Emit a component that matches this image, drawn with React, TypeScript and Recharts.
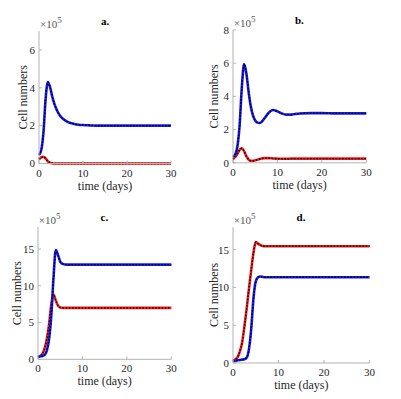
import { Line, LineChart, XAxis, YAxis } from "recharts";

// time grid (days), shared by every panel
const time = [0, 0.5, 1, 1.5, 2, 2.5, 3, 3.5, 4, 4.5, 5, 5.5, 6, 6.5, 7, 8, 9, 10, 11, 12, 13, 14, 15, 17.5, 20, 22.5, 25, 27.5, 30];
const xTicks = [0, 10, 20, 30];

// cell numbers in units of 1e5
const aBlue = [0.45, 0.7, 1.6, 3.4, 4.3, 4.05, 3.55, 3.15, 2.85, 2.62, 2.46, 2.35, 2.27, 2.2, 2.15, 2.09, 2.05, 2.03, 2.02, 2.01, 2.0, 2.0, 2.0, 2.0, 2.0, 2.0, 2.0, 2.0, 2.0];
const aRed = [0.22, 0.32, 0.36, 0.27, 0.12, 0.04, 0.01, 0, 0, 0, 0, 0, 0, 0, 0, 0, 0, 0, 0, 0, 0, 0, 0, 0, 0, 0, 0, 0, 0];
const bBlue = [0.35, 0.5, 1.0, 2.3, 4.6, 5.95, 5.4, 4.3, 3.4, 2.85, 2.55, 2.42, 2.4, 2.48, 2.65, 3.0, 3.18, 3.1, 2.97, 2.9, 2.9, 2.94, 2.97, 2.99, 2.99, 2.98, 2.98, 2.98, 2.98];
const bRed = [0.22, 0.35, 0.55, 0.78, 0.88, 0.7, 0.4, 0.2, 0.12, 0.12, 0.15, 0.19, 0.23, 0.26, 0.28, 0.28, 0.26, 0.25, 0.24, 0.24, 0.25, 0.25, 0.25, 0.25, 0.25, 0.25, 0.25, 0.25, 0.25];
const cBlue = [0.3, 0.4, 0.45, 0.6, 1.2, 2.8, 6.0, 11.2, 14.85, 14.2, 13.3, 13.0, 12.9, 12.88, 12.88, 12.88, 12.88, 12.88, 12.88, 12.88, 12.88, 12.88, 12.88, 12.88, 12.88, 12.88, 12.88, 12.88, 12.88];
const cRed = [0.3, 0.45, 0.75, 1.5, 2.8, 4.8, 7.5, 8.8, 8.0, 7.3, 7.05, 7.0, 7.0, 7.0, 7.0, 7.0, 7.0, 7.0, 7.0, 7.0, 7.0, 7.0, 7.0, 7.0, 7.0, 7.0, 7.0, 7.0, 7.0];
const dBlue = [0.2, 0.3, 0.35, 0.4, 0.45, 0.5, 0.7, 1.8, 4.5, 8.6, 10.8, 11.35, 11.45, 11.4, 11.35, 11.34, 11.34, 11.34, 11.34, 11.34, 11.34, 11.34, 11.34, 11.34, 11.34, 11.34, 11.34, 11.34, 11.34];
const dRed = [0.3, 0.5, 0.75, 1.5, 2.7, 4.8, 7.2, 9.8, 12.3, 14.6, 16.0, 15.8, 15.6, 15.5, 15.45, 15.45, 15.45, 15.45, 15.45, 15.45, 15.45, 15.45, 15.45, 15.45, 15.45, 15.45, 15.45, 15.45, 15.45];

const FONT = "Liberation Serif, DejaVu Serif, Noto Serif, serif";
const AXIS = "#b3b3b3";
const INK = "#262626";

// plot box of each panel, in page pixels
const panels = [
  { title: "a.", L: 39, T: 30.5, R: 171, B: 163, yMax: 7, yTicks: [0, 2, 4, 6], gap: 16, blue: aBlue, red: aRed },
  { title: "b.", L: 232.7, T: 29.5, R: 366, B: 162.3, yMax: 8, yTicks: [0, 2, 4, 6, 8], gap: 19.4, blue: bBlue, red: bRed },
  { title: "c.", L: 37.7, T: 226.7, R: 171, B: 359, yMax: 18, yTicks: [0, 5, 10, 15], gap: 21.7, blue: cBlue, red: cRed },
  { title: "d.", L: 232.7, T: 226.7, R: 369.3, B: 362.7, yMax: 18, yTicks: [0, 5, 10, 15], gap: 19.7, blue: dBlue, red: dRed },
];

function XTick(props: any) {
  const { x, y, payload } = props;
  return (
    <g>
      <line x1={x} x2={x} y1={y} y2={y - 3} stroke={AXIS} />
      <text x={x} y={y + 13} textAnchor="middle" fontSize={11} style={{ fontFamily: FONT }} fill={INK}>
        {payload.value}
      </text>
    </g>
  );
}

function YTick(props: any) {
  const { x, y, payload } = props;
  return (
    <g>
      <line x1={x} x2={x + 3} y1={y} y2={y} stroke={AXIS} />
      <text x={x - 4} y={y} dy="0.35em" textAnchor="end" fontSize={11} style={{ fontFamily: FONT }} fill={INK}>
        {payload.value}
      </text>
    </g>
  );
}

function Panel({ p }: { p: (typeof panels)[number] }) {
  const w = p.R - p.L;
  const h = p.B - p.T;
  const data = time.map((t, i) => ({ t, blue: p.blue[i], red: p.red[i] }));
  const labelStyle = { fontSize: 12, fontFamily: FONT, fill: INK };

  return (
    <>
      <div style={{ position: "absolute", left: p.L - 40, top: p.T - 30 }}>
        <LineChart width={w + 50} height={h + 70} data={data} margin={{ top: 30, right: 10, bottom: 0, left: 0 }}>
          <XAxis
            dataKey="t"
            type="number"
            domain={[0, 30]}
            ticks={xTicks}
            height={40}
            stroke={AXIS}
            tickLine={false}
            tickSize={0}
            tickMargin={0}
            tick={(tp: any) => <XTick {...tp} />}
            label={{ value: "time (days)", position: "insideBottom", offset: 14, style: labelStyle }}
          />
          <YAxis
            type="number"
            domain={[0, p.yMax]}
            ticks={p.yTicks}
            width={40}
            stroke={AXIS}
            tickLine={false}
            tickSize={0}
            tickMargin={0}
            tick={(tp: any) => <YTick {...tp} />}
            label={{
              value: "Cell numbers",
              angle: -90,
              position: "insideLeft",
              offset: 40 - p.gap,
              style: { ...labelStyle, textAnchor: "middle" },
            }}
          />
          <XAxis xAxisId="top" orientation="top" type="number" domain={[0, 30]} ticks={xTicks} height={0} mirror tick={false} tickSize={3} stroke={AXIS} />
          <YAxis yAxisId="right" orientation="right" type="number" domain={[0, p.yMax]} ticks={p.yTicks} width={0} mirror tick={false} tickSize={3} stroke={AXIS} />
          <Line type="monotone" dataKey="red" stroke="#ff1a1a" strokeWidth={2.6} dot={false} isAnimationActive={false} />
          <Line type="monotone" dataKey="red" stroke="#000" strokeWidth={1.4} strokeDasharray="1.6 1.6" dot={false} isAnimationActive={false} />
          <Line type="monotone" dataKey="blue" stroke="#1a1aff" strokeWidth={2.6} dot={false} isAnimationActive={false} />
          <Line type="monotone" dataKey="blue" stroke="#000" strokeWidth={1.4} strokeDasharray="1.6 1.6" dot={false} isAnimationActive={false} />
        </LineChart>
      </div>
      <div
        style={{
          position: "absolute",
          left: (p.L + p.R) / 2,
          top: p.T - 15,
          transform: "translateX(-50%)",
          fontFamily: FONT,
          fontWeight: "bold",
          fontSize: 11,
          lineHeight: "11px",
          color: "#000",
        }}
      >
        {p.title}
      </div>
      <div
        style={{
          position: "absolute",
          left: p.L + 1,
          top: p.T - 11.5,
          fontFamily: FONT,
          fontSize: 11,
          lineHeight: "11px",
          color: "#555",
          whiteSpace: "nowrap",
        }}
      >
        ×10<span style={{ position: "relative", top: -5, fontSize: 9 }}>5</span>
      </div>
    </>
  );
}

export default function App() {
  return (
    <div style={{ position: "fixed", left: 0, top: 0, width: 401, height: 399, background: "#fff", overflow: "hidden" }}>
      {panels.map((p) => (
        <Panel key={p.title} p={p} />
      ))}
    </div>
  );
}
